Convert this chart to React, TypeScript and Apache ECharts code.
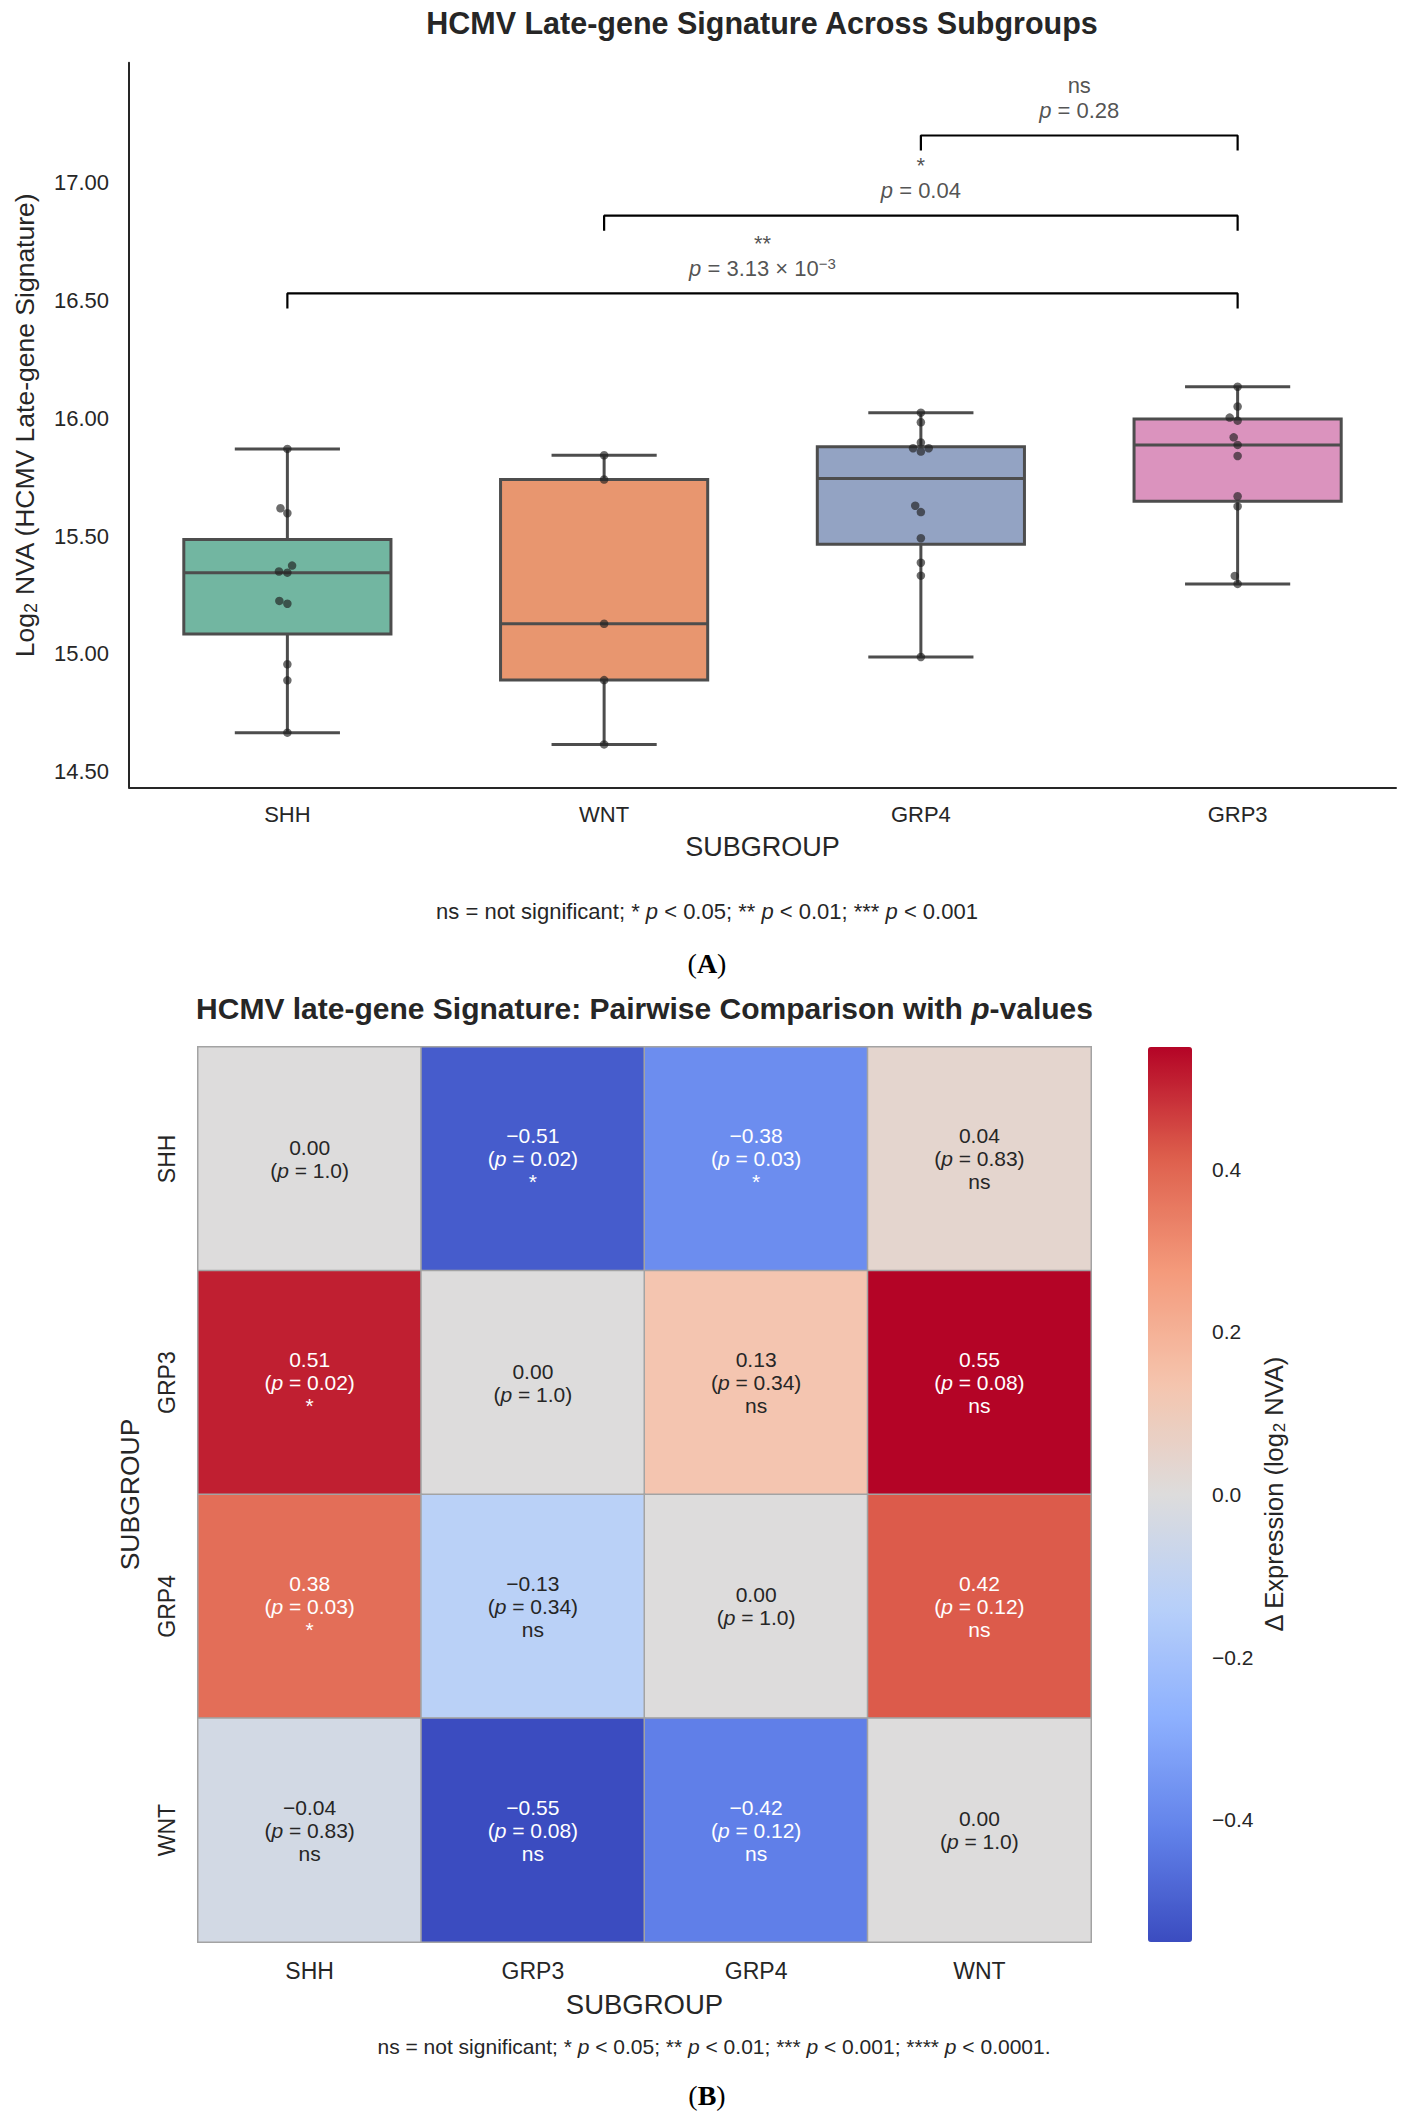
import { useEffect, useRef } from 'react';
import * as echarts from 'echarts';

// ---- panel A: box plot data ----
const subgroups = ['SHH', 'WNT', 'GRP4', 'GRP3'];
const shhValues = [15.87, 15.618, 15.597, 15.375, 15.35, 15.345, 15.225, 15.213, 14.956, 14.888, 14.666];
const wntValues = [15.843, 15.74, 15.128, 14.889, 14.616];
const grp4Values = [16.024, 15.983, 15.897, 15.873, 15.873, 15.859, 15.629, 15.602, 15.491, 15.387, 15.332, 14.987];
const grp3Values = [16.134, 16.05, 16.003, 15.99, 15.919, 15.887, 15.84, 15.669, 15.626, 15.331, 15.297];
const groupValues = [shhValues, wntValues, grp4Values, grp3Values];
const boxColors = ['#72b6a1', '#e8966f', '#93a3c3', '#db93be'];
const yTicks = [14.5, 15.0, 15.5, 16.0, 16.5, 17.0];

const comparisons = [
  { from: 0, to: 3, level: 16.53, mark: '**', p: '3.13 × 10', exp: '−3' },
  { from: 1, to: 3, level: 16.86, mark: '*', p: '0.04', exp: '' },
  { from: 2, to: 3, level: 17.2, mark: 'ns', p: '0.28', exp: '' },
];

// ---- panel B: heatmap data ----
const heatGroups = ['SHH', 'GRP3', 'GRP4', 'WNT'];
const deltaRows = [
  [0.0, -0.51, -0.38, 0.04],
  [0.51, 0.0, 0.13, 0.55],
  [0.38, -0.13, 0.0, 0.42],
  [-0.04, -0.55, -0.42, 0.0],
];
const pRows = [
  [1.0, 0.02, 0.03, 0.83],
  [0.02, 1.0, 0.34, 0.08],
  [0.03, 0.34, 1.0, 0.12],
  [0.83, 0.08, 0.12, 1.0],
];
const colorbarTicks = [-0.4, -0.2, 0, 0.2, 0.4];
const coolwarm = ['#3b4cc0', '#6282ea', '#8db0fe', '#b8d0f9', '#dddcdc', '#f5c4ad', '#f49a7b', '#de604d', '#b40426'];

const FONT = "'Liberation Sans', Arial, Helvetica, sans-serif";
const SERIF = "'Liberation Serif', 'Times New Roman', serif";
const INK = '#262626';
const EDGE = '#4d4d4d';
const BOX_HALF = 0.327;
const CAP_HALF = 0.166;
const BRACKET_TICK = 0.064;

function quantile(sorted: number[], q: number) {
  const pos = (sorted.length - 1) * q;
  const lo = Math.floor(pos);
  const hi = Math.ceil(pos);
  return sorted[lo] + (sorted[hi] - sorted[lo]) * (pos - lo);
}

function boxStats(values: number[], idx: number) {
  const s = [...values].sort((a, b) => a - b);
  const q1 = quantile(s, 0.25);
  const med = quantile(s, 0.5);
  const q3 = quantile(s, 0.75);
  const iqr = q3 - q1;
  const inRange = s.filter(v => v >= q1 - 1.5 * iqr && v <= q3 + 1.5 * iqr);
  return [idx, inRange[0], q1, med, q3, inRange[inRange.length - 1]];
}

// simple beeswarm: smallest horizontal offset that avoids overlap (pixel space)
function swarm(values: number[], dia: number, pxPerX: number, pxPerY: number) {
  const order = values.map((_, i) => i).sort((a, b) => values[a] - values[b]);
  const placed: { x: number; y: number }[] = [];
  const offsets = new Array(values.length).fill(0);
  for (const i of order) {
    const y = values[i] * pxPerY;
    const cands = [0];
    for (const p of placed) {
      const dy = Math.abs(p.y - y);
      if (dy < dia) {
        const dx = Math.sqrt(dia * dia - dy * dy);
        cands.push(p.x - dx, p.x + dx);
      }
    }
    cands.sort((a, b) => Math.abs(a) - Math.abs(b) || a - b);
    const x = cands.find(c => placed.every(p => Math.hypot(p.x - c, p.y - y) >= dia - 1e-6)) ?? 0;
    placed.push({ x, y });
    offsets[i] = x / pxPerX;
  }
  return offsets;
}

const fmtSigned = (v: number, d: number) => v.toFixed(d).replace('-', '−');

function sigLabel(p: number) {
  if (p < 0.001) return '***';
  if (p < 0.01) return '**';
  if (p < 0.05) return '*';
  return 'ns';
}

export default function App() {
  const ref = useRef<HTMLDivElement>(null);

  useEffect(() => {
    if (!ref.current) return;
    const chart = echarts.init(ref.current, undefined, { renderer: 'svg' });

    const stats = groupValues.map((vals, i) => boxStats(vals, i));

    const points: number[][] = [];
    groupValues.forEach((vals, i) => {
      const offs = swarm(vals, 8.5, 316.75, 235.6);
      vals.forEach((v, k) => points.push([i + offs[k], v]));
    });

    const heatData: any[] = [];
    deltaRows.forEach((row, r) => {
      row.forEach((v, c) => {
        heatData.push({
          value: [c, r, v],
          label: { color: Math.abs(v) >= 0.3 ? '#ffffff' : INK },
        });
      });
    });

    const bracketSeries = comparisons.map(c => ({
      type: 'line',
      xAxisIndex: 0,
      yAxisIndex: 0,
      data: [
        [c.from, c.level - BRACKET_TICK],
        [c.from, c.level],
        [c.to, c.level],
        [c.to, c.level - BRACKET_TICK],
      ],
      symbol: 'none',
      silent: true,
      lineStyle: { color: '#000', width: 2.2 },
      z: 3,
    }));

    const series: any[] = [
      {
        type: 'custom',
        xAxisIndex: 0,
        yAxisIndex: 0,
        data: stats,
        encode: { x: 0, y: [1, 2, 3, 4, 5] },
        renderItem: (_params: any, api: any) => {
          const i = api.value(0);
          const lo = api.value(1);
          const q1 = api.value(2);
          const md = api.value(3);
          const q3 = api.value(4);
          const hi = api.value(5);
          const tl = api.coord([i - BOX_HALF, q3]);
          const br = api.coord([i + BOX_HALF, q1]);
          const cx = api.coord([i, md])[0];
          const yLo = api.coord([i, lo])[1];
          const yHi = api.coord([i, hi])[1];
          const yMd = api.coord([i, md])[1];
          const capL = api.coord([i - CAP_HALF, lo])[0];
          const capR = api.coord([i + CAP_HALF, lo])[0];
          const ls = { stroke: EDGE, lineWidth: 3 };
          return {
            type: 'group',
            children: [
              { type: 'line', shape: { x1: cx, y1: yHi, x2: cx, y2: tl[1] }, style: ls },
              { type: 'line', shape: { x1: cx, y1: br[1], x2: cx, y2: yLo }, style: ls },
              {
                type: 'rect',
                shape: { x: tl[0], y: tl[1], width: br[0] - tl[0], height: br[1] - tl[1] },
                style: { fill: boxColors[i], stroke: EDGE, lineWidth: 3 },
              },
              { type: 'line', shape: { x1: tl[0], y1: yMd, x2: br[0], y2: yMd }, style: ls },
              { type: 'line', shape: { x1: capL, y1: yHi, x2: capR, y2: yHi }, style: ls },
              { type: 'line', shape: { x1: capL, y1: yLo, x2: capR, y2: yLo }, style: ls },
            ],
          };
        },
        z: 2,
      },
      {
        type: 'scatter',
        xAxisIndex: 0,
        yAxisIndex: 0,
        data: points,
        symbolSize: 8.5,
        itemStyle: { color: 'rgba(30,30,30,0.82)' },
        silent: true,
        z: 4,
      },
      ...bracketSeries,
      {
        type: 'scatter',
        xAxisIndex: 0,
        yAxisIndex: 0,
        symbolSize: 1,
        itemStyle: { color: 'transparent' },
        silent: true,
        data: comparisons.map(c => [(c.from + c.to) / 2, c.level]),
        label: {
          show: true,
          position: 'top',
          distance: 12,
          color: INK,
          fontSize: 22,
          lineHeight: 25,
          fontFamily: FONT,
          formatter: (params: any) => {
            const c = comparisons[params.dataIndex];
            return `${c.mark}\n{i|p} = ${c.p}` + (c.exp ? `{sup|${c.exp}}` : '');
          },
          rich: {
            i: { fontStyle: 'italic', fontSize: 22, lineHeight: 25, fontFamily: FONT, color: INK },
            sup: { fontSize: 15, lineHeight: 11, verticalAlign: 'top', fontFamily: FONT, color: INK },
          },
        },
        z: 5,
      },
    ];

    const heatIndex = series.length;
    series.push({
      type: 'heatmap',
      xAxisIndex: 1,
      yAxisIndex: 1,
      data: heatData,
      itemStyle: { borderColor: '#a3a3a3', borderWidth: 1.5 },
      emphasis: { disabled: true },
      label: {
        show: true,
        fontSize: 21,
        lineHeight: 23,
        fontFamily: FONT,
        formatter: (params: any) => {
          const [c, r, v] = params.value;
          const p = pRows[r][c];
          const pText = p === 1 ? '1.0' : p.toFixed(2);
          let s = `${fmtSigned(v, 2)}\n({i|p} = ${pText})`;
          if (r !== c) s += `\n${sigLabel(p)}`;
          return s;
        },
        rich: {
          i: { fontStyle: 'italic', fontSize: 21, lineHeight: 23, fontFamily: FONT },
        },
      },
    });
    series.push({ type: 'scatter', xAxisIndex: 2, yAxisIndex: 2, data: [] });

    const option: any = {
      animation: false,
      backgroundColor: '#ffffff',
      textStyle: { fontFamily: FONT },
      grid: [
        { left: 129, top: 62.7, width: 1267, height: 724.6 },
        { left: 198, top: 1047, width: 893, height: 895 },
        { left: 1148, top: 1047, width: 44, height: 895 },
      ],
      xAxis: [
        {
          gridIndex: 0,
          type: 'value',
          min: -0.5,
          max: 3.5,
          splitLine: { show: false },
          axisTick: { show: false },
          axisLine: { show: true, onZero: false, lineStyle: { color: INK, width: 2 } },
          axisLabel: {
            customValues: [0, 1, 2, 3],
            formatter: (v: number) => subgroups[Math.round(v)],
            fontSize: 22,
            color: INK,
            margin: 16,
            fontFamily: FONT,
          },
          name: 'SUBGROUP',
          nameLocation: 'middle',
          nameGap: 46,
          nameTextStyle: { fontSize: 27, color: INK, fontFamily: FONT },
        },
        {
          gridIndex: 1,
          type: 'category',
          data: heatGroups,
          axisLine: { show: false },
          axisTick: { show: false },
          splitLine: { show: false },
          axisLabel: { fontSize: 23, color: INK, margin: 17, fontFamily: FONT },
          name: 'SUBGROUP',
          nameLocation: 'middle',
          nameGap: 48,
          nameTextStyle: { fontSize: 27.5, color: INK, fontFamily: FONT },
        },
        { gridIndex: 2, type: 'value', show: false, min: 0, max: 1 },
      ],
      yAxis: [
        {
          gridIndex: 0,
          type: 'value',
          min: 14.434,
          max: 17.509,
          splitLine: { show: false },
          axisTick: { show: false },
          axisLine: { show: true, onZero: false, lineStyle: { color: INK, width: 2 } },
          axisLabel: {
            customValues: yTicks,
            formatter: (v: number) => v.toFixed(2),
            fontSize: 22,
            color: INK,
            margin: 20,
            fontFamily: FONT,
          },
          name: 'Log{sub|2} NVA (HCMV Late-gene Signature)',
          nameLocation: 'middle',
          nameGap: 89,
          nameRotate: 90,
          nameTextStyle: {
            fontSize: 26.5,
            color: INK,
            fontFamily: FONT,
            lineHeight: 30,
            rich: { sub: { fontSize: 18, lineHeight: 15, verticalAlign: 'bottom', color: INK, fontFamily: FONT } },
          },
        },
        {
          gridIndex: 1,
          type: 'category',
          data: heatGroups,
          inverse: true,
          axisLine: { show: false },
          axisTick: { show: false },
          splitLine: { show: false },
          axisLabel: { rotate: 90, fontSize: 23, color: INK, margin: 20, fontFamily: FONT },
          name: 'SUBGROUP',
          nameLocation: 'middle',
          nameGap: 55,
          nameRotate: 90,
          nameTextStyle: { fontSize: 26.5, color: INK, fontFamily: FONT },
        },
        {
          gridIndex: 2,
          type: 'value',
          position: 'right',
          min: -0.55,
          max: 0.55,
          splitLine: { show: false },
          axisLine: { show: false },
          axisTick: { show: true, length: 11, customValues: colorbarTicks, lineStyle: { color: INK, width: 1.5 } },
          axisLabel: {
            customValues: colorbarTicks,
            formatter: (v: number) => fmtSigned(v, 1),
            fontSize: 21,
            color: INK,
            margin: 20,
            fontFamily: FONT,
          },
          name: 'Δ Expression (log{sub|2} NVA)',
          nameLocation: 'middle',
          nameGap: 67,
          nameRotate: 90,
          nameTextStyle: {
            fontSize: 25.5,
            color: INK,
            fontFamily: FONT,
            lineHeight: 29,
            rich: { sub: { fontSize: 17, lineHeight: 14, verticalAlign: 'bottom', color: INK, fontFamily: FONT } },
          },
        },
      ],
      visualMap: {
        type: 'continuous',
        seriesIndex: heatIndex,
        min: -0.55,
        max: 0.55,
        orient: 'vertical',
        left: 1148,
        top: 1047,
        itemWidth: 44,
        itemHeight: 895,
        padding: 0,
        calculable: false,
        hoverLink: false,
        inRange: { color: coolwarm },
      },
      graphic: [
        {
          type: 'text',
          x: 762,
          y: 23,
          style: {
            text: 'HCMV Late-gene Signature Across Subgroups',
            fontSize: 30.5,
            fontWeight: 'bold',
            fontFamily: FONT,
            fill: INK,
            align: 'center',
            verticalAlign: 'middle',
          },
        },
        {
          type: 'text',
          x: 707,
          y: 911,
          style: {
            text: 'ns = not significant; * {i|p} < 0.05; ** {i|p} < 0.01; *** {i|p} < 0.001',
            fontSize: 22,
            fontFamily: FONT,
            fill: INK,
            align: 'center',
            verticalAlign: 'middle',
            rich: { i: { fontStyle: 'italic', fontSize: 22, fontFamily: FONT, fill: INK } },
          },
        },
        {
          type: 'text',
          x: 707,
          y: 963,
          style: {
            text: '{r|(}{b|A}{r|)}',
            fontSize: 28,
            fontFamily: SERIF,
            fill: '#000',
            align: 'center',
            verticalAlign: 'middle',
            rich: {
              r: { fontSize: 28, fontFamily: SERIF, fill: '#000' },
              b: { fontSize: 28, fontFamily: SERIF, fontWeight: 'bold', fill: '#000' },
            },
          },
        },
        {
          type: 'text',
          x: 644.5,
          y: 1008,
          style: {
            text: 'HCMV late-gene Signature: Pairwise Comparison with {ib|p}-values',
            fontSize: 30,
            fontWeight: 'bold',
            fontFamily: FONT,
            fill: INK,
            align: 'center',
            verticalAlign: 'middle',
            rich: { ib: { fontSize: 30, fontWeight: 'bold', fontStyle: 'italic', fontFamily: FONT, fill: INK } },
          },
        },
        {
          type: 'text',
          x: 714,
          y: 2046,
          style: {
            text: 'ns = not significant; * {i|p} < 0.05; ** {i|p} < 0.01; *** {i|p} < 0.001; **** {i|p} < 0.0001.',
            fontSize: 21,
            fontFamily: FONT,
            fill: INK,
            align: 'center',
            verticalAlign: 'middle',
            rich: { i: { fontStyle: 'italic', fontSize: 21, fontFamily: FONT, fill: INK } },
          },
        },
        {
          type: 'text',
          x: 707,
          y: 2095,
          style: {
            text: '{r|(}{b|B}{r|)}',
            fontSize: 28,
            fontFamily: SERIF,
            fill: '#000',
            align: 'center',
            verticalAlign: 'middle',
            rich: {
              r: { fontSize: 28, fontFamily: SERIF, fill: '#000' },
              b: { fontSize: 28, fontFamily: SERIF, fontWeight: 'bold', fill: '#000' },
            },
          },
        },
      ],
      series,
    };

    chart.setOption(option);

    return () => {
      chart.dispose();
    };
  }, []);

  return (
    <div
      ref={ref}
      style={{ position: 'absolute', left: 0, top: 0, width: 1414, height: 2121, background: '#fff' }}
    />
  );
}
